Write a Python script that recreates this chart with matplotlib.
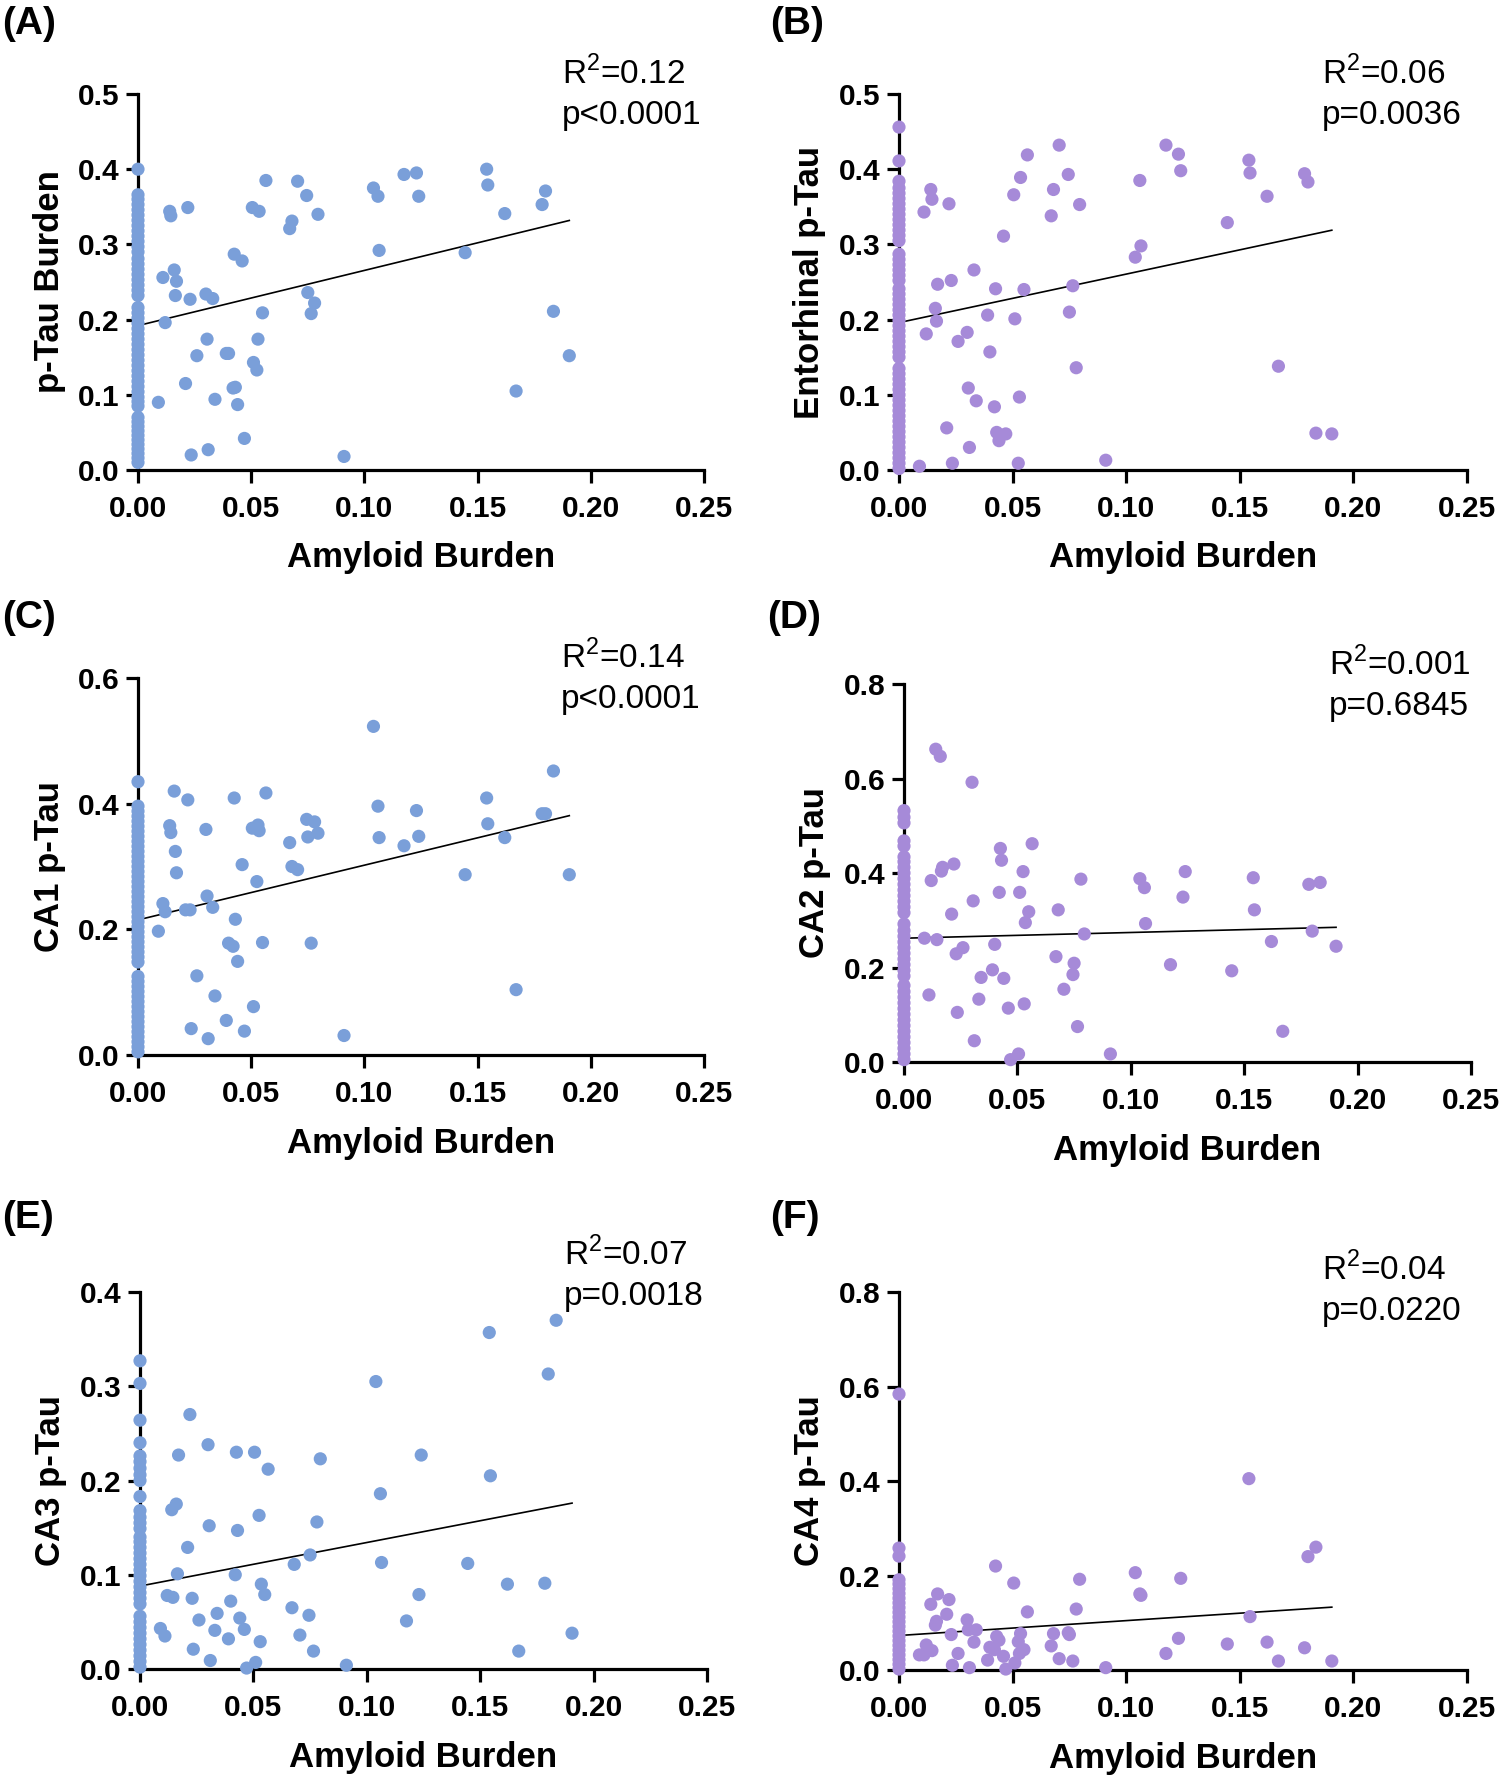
import numpy as np
import matplotlib
matplotlib.use('Agg')
import matplotlib.pyplot as plt
from matplotlib.ticker import FormatStrFormatter

plt.rcParams['font.family'] = ['Liberation Sans', 'DejaVu Sans']
plt.rcParams['mathtext.fontset'] = 'custom'
plt.rcParams['mathtext.rm'] = 'Liberation Sans'

# amyloid burden of the cases with non-zero amyloid (shared by all panels)
amyloid = [0.009, 0.011, 0.012, 0.014, 0.0145, 0.016, 0.0165, 0.017, 0.021, 0.022,
           0.023, 0.0235, 0.026, 0.030, 0.0305, 0.031, 0.033, 0.034, 0.039, 0.040,
           0.042, 0.0425, 0.043, 0.044, 0.046, 0.047, 0.0505, 0.051, 0.0525, 0.053,
           0.0535, 0.055, 0.0565, 0.067, 0.068, 0.0705, 0.0745, 0.075, 0.0765, 0.078,
           0.0795, 0.091, 0.104, 0.106, 0.1065, 0.1175, 0.123, 0.124, 0.1445, 0.154,
           0.1545, 0.162, 0.167, 0.1785, 0.180, 0.1835, 0.1905]

# p-tau values for those cases
ptau_a = [0.090, 0.256, 0.196, 0.344, 0.338, 0.266, 0.232, 0.251, 0.115, 0.349,
          0.227, 0.020, 0.152, 0.234, 0.174, 0.027, 0.228, 0.094, 0.155, 0.155,
          0.109, 0.287, 0.110, 0.087, 0.278, 0.042, 0.349, 0.143, 0.133, 0.174,
          0.344, 0.209, 0.385, 0.321, 0.331, 0.384, 0.365, 0.236, 0.208, 0.222,
          0.340, 0.018, 0.375, 0.364, 0.292, 0.393, 0.395, 0.364, 0.289, 0.400,
          0.379, 0.341, 0.105, 0.353, 0.371, 0.211, 0.152]
ptau_b = [0.005, 0.343, 0.181, 0.373, 0.360, 0.215, 0.198, 0.247, 0.056, 0.354,
          0.252, 0.009, 0.171, 0.183, 0.109, 0.030, 0.266, 0.092, 0.206, 0.157,
          0.084, 0.241, 0.050, 0.039, 0.311, 0.048, 0.366, 0.201, 0.009, 0.097,
          0.389, 0.240, 0.419, 0.338, 0.373, 0.432, 0.393, 0.210, 0.245, 0.136,
          0.353, 0.013, 0.283, 0.385, 0.298, 0.432, 0.420, 0.398, 0.329, 0.412,
          0.395, 0.364, 0.138, 0.394, 0.383, 0.049, 0.048]
ptau_c = [0.197, 0.241, 0.228, 0.365, 0.354, 0.420, 0.324, 0.290, 0.231, 0.406,
          0.231, 0.042, 0.126, 0.359, 0.253, 0.026, 0.235, 0.094, 0.055, 0.178,
          0.173, 0.409, 0.216, 0.149, 0.303, 0.038, 0.361, 0.077, 0.276, 0.366,
          0.357, 0.179, 0.417, 0.338, 0.300, 0.295, 0.375, 0.347, 0.178, 0.371,
          0.353, 0.031, 0.523, 0.396, 0.346, 0.333, 0.389, 0.348, 0.287, 0.409,
          0.368, 0.346, 0.104, 0.384, 0.384, 0.452, 0.287]
ptau_d = [0.262, 0.142, 0.384, 0.662, 0.259, 0.647, 0.404, 0.412, 0.313, 0.419,
          0.229, 0.105, 0.242, 0.592, 0.341, 0.045, 0.133, 0.179, 0.195, 0.249,
          0.359, 0.452, 0.427, 0.177, 0.114, 0.005, 0.017, 0.359, 0.403, 0.123,
          0.295, 0.318, 0.462, 0.223, 0.322, 0.154, 0.185, 0.209, 0.075, 0.387,
          0.271, 0.017, 0.388, 0.369, 0.293, 0.206, 0.349, 0.403, 0.193, 0.390,
          0.322, 0.255, 0.065, 0.376, 0.277, 0.380, 0.245]
ptau_e = [0.043, 0.035, 0.078, 0.169, 0.076, 0.175, 0.101, 0.227, 0.129, 0.270,
          0.075, 0.021, 0.052, 0.238, 0.152, 0.009, 0.041, 0.059, 0.032, 0.072,
          0.100, 0.230, 0.147, 0.054, 0.042, 0.001, 0.230, 0.007, 0.163, 0.029,
          0.090, 0.079, 0.212, 0.065, 0.111, 0.036, 0.057, 0.121, 0.019, 0.156,
          0.223, 0.004, 0.305, 0.186, 0.113, 0.051, 0.079, 0.227, 0.112, 0.357,
          0.205, 0.090, 0.019, 0.091, 0.313, 0.370, 0.038]
ptau_f = [0.032, 0.032, 0.053, 0.139, 0.041, 0.095, 0.103, 0.161, 0.118, 0.149,
          0.075, 0.010, 0.035, 0.106, 0.085, 0.005, 0.059, 0.085, 0.021, 0.048,
          0.043, 0.220, 0.071, 0.063, 0.029, 0.002, 0.184, 0.015, 0.060, 0.035,
          0.077, 0.043, 0.123, 0.051, 0.077, 0.024, 0.079, 0.075, 0.019, 0.129,
          0.192, 0.005, 0.206, 0.161, 0.158, 0.035, 0.067, 0.194, 0.055, 0.405,
          0.113, 0.059, 0.019, 0.047, 0.240, 0.260, 0.019]

# p-tau of the cases with zero amyloid (the column on the y axis)
zero_a = [0.010, 0.016, 0.022, 0.028, 0.034, 0.040, 0.046, 0.052, 0.058, 0.064,
          0.070, 0.085, 0.091, 0.097, 0.104, 0.111, 0.118, 0.125, 0.132, 0.139,
          0.146, 0.153, 0.160, 0.167, 0.174, 0.181, 0.188, 0.195, 0.202, 0.209,
          0.216, 0.232, 0.239, 0.246, 0.253, 0.260, 0.267, 0.274, 0.281, 0.290,
          0.297, 0.304, 0.311, 0.318, 0.325, 0.332, 0.339, 0.346, 0.353, 0.360,
          0.366, 0.400]
zero_b = [0.002, 0.009, 0.016, 0.023, 0.030, 0.037, 0.044, 0.051, 0.058, 0.065,
          0.072, 0.079, 0.086, 0.093, 0.100, 0.107, 0.114, 0.121, 0.128, 0.135,
          0.150, 0.157, 0.164, 0.171, 0.178, 0.185, 0.192, 0.199, 0.206, 0.213,
          0.220, 0.227, 0.234, 0.241, 0.252, 0.259, 0.266, 0.273, 0.280, 0.287,
          0.305, 0.312, 0.319, 0.326, 0.333, 0.340, 0.347, 0.354, 0.361, 0.368,
          0.375, 0.384, 0.411, 0.456]
zero_c = [0.005, 0.013, 0.021, 0.029, 0.037, 0.045, 0.053, 0.061, 0.069, 0.077,
          0.085, 0.093, 0.101, 0.109, 0.117, 0.125, 0.148, 0.156, 0.164, 0.172,
          0.180, 0.188, 0.196, 0.204, 0.212, 0.220, 0.228, 0.236, 0.244, 0.252,
          0.260, 0.268, 0.276, 0.284, 0.292, 0.300, 0.308, 0.316, 0.324, 0.332,
          0.340, 0.348, 0.356, 0.364, 0.372, 0.380, 0.388, 0.396, 0.435]
zero_d = [0.005, 0.017, 0.029, 0.041, 0.053, 0.065, 0.077, 0.089, 0.101, 0.113,
          0.125, 0.137, 0.149, 0.162, 0.182, 0.194, 0.206, 0.218, 0.230, 0.242,
          0.254, 0.266, 0.278, 0.292, 0.316, 0.328, 0.340, 0.352, 0.364, 0.376,
          0.388, 0.400, 0.412, 0.424, 0.434, 0.457, 0.468, 0.506, 0.518, 0.532]
zero_e = [0.002, 0.008, 0.014, 0.020, 0.026, 0.032, 0.038, 0.044, 0.050, 0.056,
          0.069, 0.075, 0.081, 0.087, 0.093, 0.099, 0.105, 0.111, 0.117, 0.123,
          0.129, 0.135, 0.140, 0.149, 0.155, 0.161, 0.168, 0.183, 0.200, 0.206,
          0.213, 0.220, 0.226, 0.240, 0.264, 0.303, 0.327]
zero_f = [0.002, 0.012, 0.022, 0.032, 0.042, 0.052, 0.062, 0.072, 0.082, 0.092,
          0.102, 0.112, 0.122, 0.132, 0.142, 0.152, 0.162, 0.172, 0.182, 0.191,
          0.241, 0.258, 0.584]

# linear fits: intercept, slope
fit_a = [0.192, 0.734]
fit_b = [0.196, 0.645]
fit_c = [0.215, 0.871]
fit_d = [0.262, 0.121]
fit_e = [0.088, 0.462]
fit_f = [0.073, 0.315]

panel_letters = ['(A)', '(B)', '(C)', '(D)', '(E)', '(F)']
y_labels = ['p-Tau Burden', 'Entorhinal p-Tau', 'CA1 p-Tau', 'CA2 p-Tau', 'CA3 p-Tau', 'CA4 p-Tau']
stats = ['R$^2$=0.12\np<0.0001', 'R$^2$=0.06\np=0.0036', 'R$^2$=0.14\np<0.0001',
         'R$^2$=0.001\np=0.6845', 'R$^2$=0.07\np=0.0018', 'R$^2$=0.04\np=0.0220']
y_max = [0.5, 0.5, 0.6, 0.8, 0.4, 0.8]
y_step = [0.1, 0.1, 0.2, 0.2, 0.1, 0.2]
x_ticks = [0.0, 0.05, 0.10, 0.15, 0.20, 0.25]

blue = '#7A9FD9'
purple = '#A68AD8'
colors = [blue, purple, blue, purple, blue, purple]
ptau = [ptau_a, ptau_b, ptau_c, ptau_d, ptau_e, ptau_f]
zeros = [zero_a, zero_b, zero_c, zero_d, zero_e, zero_f]
fits = [fit_a, fit_b, fit_c, fit_d, fit_e, fit_f]

# axes boxes in pixels: left, top, right, bottom
W, H = 1500, 1776
boxes = [(138, 94, 704, 470), (899, 94, 1467, 470),
         (138, 678, 704, 1055), (904, 684, 1471, 1062),
         (140, 1292, 707, 1669), (899, 1292, 1467, 1670)]
letter_pos = [(2, 24), (770, 24), (2, 618), (767, 618), (2, 1218), (770, 1218)]
stat_pos = [(562, 56), (1322, 56), (561, 640), (1329, 647), (564, 1237), (1322, 1252)]

fig = plt.figure(figsize=(15, 17.76), dpi=100)

x = np.array(amyloid)
for i in range(6):
    l, t, r, b = boxes[i]
    ax = fig.add_axes([l / W, 1 - b / H, (r - l) / W, (b - t) / H])

    ax.scatter(np.zeros(len(zeros[i])), zeros[i], s=90, color=colors[i],
               edgecolors='none', zorder=4, clip_on=False)
    ax.scatter(x, ptau[i], s=90, color=colors[i], edgecolors='none', zorder=4, clip_on=False)

    xf = np.array([0, x.max()])
    ax.plot(xf, fits[i][0] + fits[i][1] * xf, color='k', linewidth=1.2, zorder=3)

    ax.set_xlim(0, 0.25)
    ax.set_ylim(0, y_max[i])
    ax.set_xticks(x_ticks)
    ax.set_yticks(np.arange(0, y_max[i] + 1e-9, y_step[i]))
    ax.xaxis.set_major_formatter(FormatStrFormatter('%.2f'))
    ax.yaxis.set_major_formatter(FormatStrFormatter('%.1f'))

    ax.spines['top'].set_visible(False)
    ax.spines['right'].set_visible(False)
    for side in ['left', 'bottom']:
        ax.spines[side].set_linewidth(2.3)
    ax.tick_params(width=2.3, length=9, labelsize=21.5)
    ax.tick_params(axis='x', pad=9)
    ax.tick_params(axis='y', pad=4)
    for lab in ax.get_xticklabels() + ax.get_yticklabels():
        lab.set_fontweight('bold')

    ax.set_xlabel('Amyloid Burden', fontsize=25, fontweight='bold')
    ax.set_ylabel(y_labels[i], fontsize=25, fontweight='bold')
    ax.xaxis.set_label_coords(0.5, -0.19)
    ax.yaxis.set_label_coords(-0.128, 0.5)

    lx, ly = letter_pos[i]
    fig.text(lx / W, 1 - ly / H, panel_letters[i], fontsize=28, fontweight='bold',
             ha='left', va='center')
    sx, sy = stat_pos[i]
    fig.text(sx / W, 1 - sy / H, stats[i], fontsize=24, ha='left', va='top',
             linespacing=1.35)

fig.savefig('out.png', dpi=100)
